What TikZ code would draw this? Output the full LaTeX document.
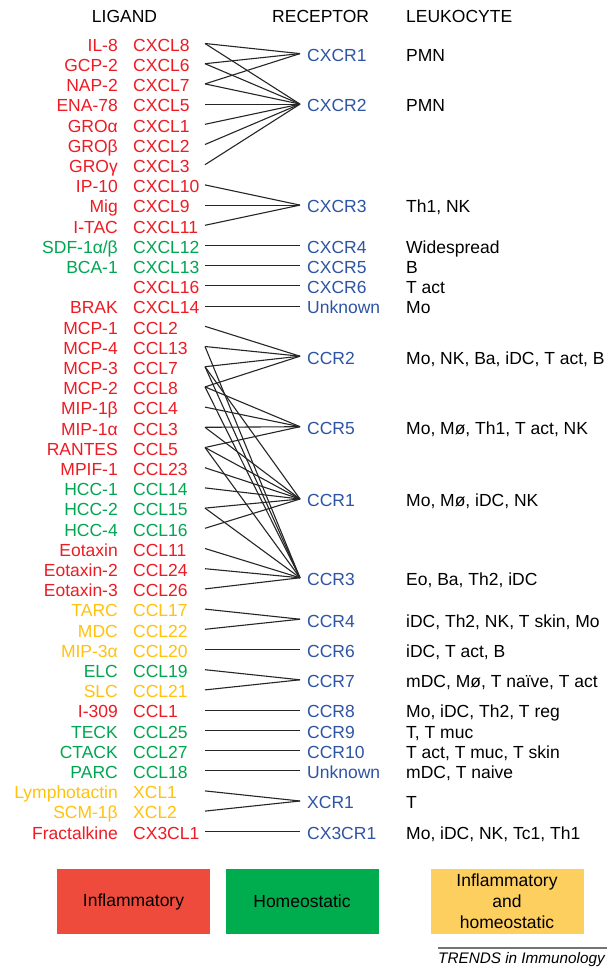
\documentclass[tikz,border=0pt]{standalone}
\usepackage{fontspec}
\setmainfont{Liberation Sans}
\definecolor{lred}{HTML}{ED1C24}
\definecolor{lgreen}{HTML}{00A651}
\definecolor{lyellow}{HTML}{FFC20E}
\definecolor{recblue}{HTML}{2E54A5}
\definecolor{boxred}{HTML}{EF4B3C}
\definecolor{boxgreen}{HTML}{00AD4E}
\definecolor{boxyellow}{HTML}{FCCF5F}
\newcommand\Lig[4]{%
  \pgfmathsetmacro\yy{43.5+20.2*#1}%
  \coordinate (L#1) at (205,\yy);%
  \node[lig,text=#4] (C#1) at (118,\yy+7.8) {#2};%
  \node[sys,text=#4] (S#1) at (133,\yy+7.8) {#3};%
}
\newcommand\Rec[4]{%
  \pgfmathsetmacro\yy{43.5+20.2*#2}%
  \coordinate (R#1) at (300,\yy);%
  \node[rec] (N#1) at (307,\yy+7.8) {#3};%
  \node[leu] (K#1) at (406,\yy+7.8) {#4};%
}
\begin{document}
\begin{tikzpicture}[x=1pt,y=-1pt,
  font=\fontsize{17.5}{20}\selectfont,
  lig/.style={anchor=base east, inner sep=0pt},
  sys/.style={anchor=base west, inner sep=0pt},
  rec/.style={anchor=base west, inner sep=0pt, text=recblue},
  leu/.style={anchor=base west, inner sep=0pt, text=black},
  head/.style={anchor=base, inner sep=0pt, text=black},
  link/.style={draw=black!85, line width=1.1pt, line join=round},
  legbox/.style={minimum width=153pt, minimum height=65pt, inner sep=0pt, text=black, align=center, font=\fontsize{17.5}{21}\selectfont}]
\useasboundingbox (0,0) rectangle (609,969);
\fill[white] (0,0) rectangle (609,969);

% headers
\node[head, anchor=base] (hL) at (124.5,22.3) {LIGAND};
\node[head, anchor=base west] (hR) at (272,22.3) {RECEPTOR};
\node[head, anchor=base west] (hK) at (406,22.3) {LEUKOCYTE};

% ligands
\Lig{0}{IL-8}{CXCL8}{lred}
\Lig{1}{GCP-2}{CXCL6}{lred}
\Lig{2}{NAP-2}{CXCL7}{lred}
\Lig{3}{ENA-78}{CXCL5}{lred}
\Lig{4}{GROα}{CXCL1}{lred}
\Lig{5}{GROβ}{CXCL2}{lred}
\Lig{6}{GROγ}{CXCL3}{lred}
\Lig{7}{IP-10}{CXCL10}{lred}
\Lig{8}{Mig}{CXCL9}{lred}
\Lig{9}{I-TAC}{CXCL11}{lred}
\Lig{10}{SDF-1α/β}{CXCL12}{lgreen}
\Lig{11}{BCA-1}{CXCL13}{lgreen}
\Lig{12}{}{CXCL16}{lred}
\Lig{13}{BRAK}{CXCL14}{lred}
\Lig{14}{MCP-1}{CCL2}{lred}
\Lig{15}{MCP-4}{CCL13}{lred}
\Lig{16}{MCP-3}{CCL7}{lred}
\Lig{17}{MCP-2}{CCL8}{lred}
\Lig{18}{MIP-1β}{CCL4}{lred}
\Lig{19}{MIP-1α}{CCL3}{lred}
\Lig{20}{RANTES}{CCL5}{lred}
\Lig{21}{MPIF-1}{CCL23}{lred}
\Lig{22}{HCC-1}{CCL14}{lgreen}
\Lig{23}{HCC-2}{CCL15}{lgreen}
\Lig{24}{HCC-4}{CCL16}{lgreen}
\Lig{25}{Eotaxin}{CCL11}{lred}
\Lig{26}{Eotaxin-2}{CCL24}{lred}
\Lig{27}{Eotaxin-3}{CCL26}{lred}
\Lig{28}{TARC}{CCL17}{lyellow}
\Lig{29}{MDC}{CCL22}{lyellow}
\Lig{30}{MIP-3α}{CCL20}{lyellow}
\Lig{31}{ELC}{CCL19}{lgreen}
\Lig{32}{SLC}{CCL21}{lyellow}
\Lig{33}{I-309}{CCL1}{lred}
\Lig{34}{TECK}{CCL25}{lgreen}
\Lig{35}{CTACK}{CCL27}{lgreen}
\Lig{36}{PARC}{CCL18}{lgreen}
\Lig{37}{Lymphotactin}{XCL1}{lyellow}
\Lig{38}{SCM-1β}{XCL2}{lyellow}
\Lig{39}{Fractalkine}{CX3CL1}{lred}

% receptors
\Rec{CXCR1}{0.5}{CXCR1}{PMN}
\Rec{CXCR2}{3}{CXCR2}{PMN}
\Rec{CXCR3}{8}{CXCR3}{Th1, NK}
\Rec{CXCR4}{10}{CXCR4}{Widespread}
\Rec{CXCR5}{11}{CXCR5}{B}
\Rec{CXCR6}{12}{CXCR6}{T act}
\Rec{UnkA}{13}{Unknown}{Mo}
\Rec{CCR2}{15.48}{CCR2}{Mo, NK, Ba, iDC, T act, B}
\Rec{CCR5}{18.97}{CCR5}{Mo, Mø, Th1, T act, NK}
\Rec{CCR1}{22.55}{CCR1}{Mo, Mø, iDC, NK}
\Rec{CCR3}{26.45}{CCR3}{Eo, Ba, Th2, iDC}
\Rec{CCR4}{28.5}{CCR4}{iDC, Th2, NK, T skin, Mo}
\Rec{CCR6}{30}{CCR6}{iDC, T act, B}
\Rec{CCR7}{31.5}{CCR7}{mDC, Mø, T naïve, T act}
\Rec{CCR8}{33}{CCR8}{Mo, iDC, Th2, T reg}
\Rec{CCR9}{34}{CCR9}{T, T muc}
\Rec{CCR10}{35}{CCR10}{T act, T muc, T skin}
\Rec{UnkB}{36}{Unknown}{mDC, T naive}
\Rec{XCR1}{37.5}{XCR1}{T}
\Rec{CX3CR1}{39}{CX3CR1}{Mo, iDC, NK, Tc1, Th1}

% connectors
\foreach \i in {0,1,2} \draw[link] (L\i) -- (RCXCR1);
\foreach \i in {0,...,6} \draw[link] (L\i) -- (RCXCR2);
\foreach \i in {7,8,9} \draw[link] (L\i) -- (RCXCR3);
\draw[link] (L10) -- (RCXCR4);
\draw[link] (L11) -- (RCXCR5);
\draw[link] (L12) -- (RCXCR6);
\draw[link] (L13) -- (RUnkA);
\foreach \i in {14,15,16,17} \draw[link] (L\i) -- (RCCR2);
\foreach \i in {17,18,19,20} \draw[link] (L\i) -- (RCCR5);
\foreach \i in {16,19,20,21,22,23,24} \draw[link] (L\i) -- (RCCR1);
\foreach \i in {15,16,17,20,23,25,26,27} \draw[link] (L\i) -- (RCCR3);
\foreach \i in {28,29} \draw[link] (L\i) -- (RCCR4);
\draw[link] (L30) -- (RCCR6);
\foreach \i in {31,32} \draw[link] (L\i) -- (RCCR7);
\draw[link] (L33) -- (RCCR8);
\draw[link] (L34) -- (RCCR9);
\draw[link] (L35) -- (RCCR10);
\draw[link] (L36) -- (RUnkB);
\foreach \i in {37,38} \draw[link] (L\i) -- (RXCR1);
\draw[link] (L39) -- (RCX3CR1);

% legend
\node[legbox, fill=boxred] (legI) at (133.5,901.5) {Inflammatory};
\node[legbox, fill=boxgreen] (legH) at (302,901.5) {Homeostatic};
\node[legbox, fill=boxyellow] (legB) at (507,901.5) {Inflammatory\\and\\homeostatic};

% source
\coordinate (srcA) at (438,948);
\coordinate (srcB) at (607,948);
\draw[black!55, line width=1.3pt] (srcA) -- (srcB);
\node[anchor=base east, inner sep=0pt, font=\fontsize{15.3}{18}\selectfont\itshape] (src) at (605,963) {TRENDS in Immunology};
\end{tikzpicture}
\end{document}
